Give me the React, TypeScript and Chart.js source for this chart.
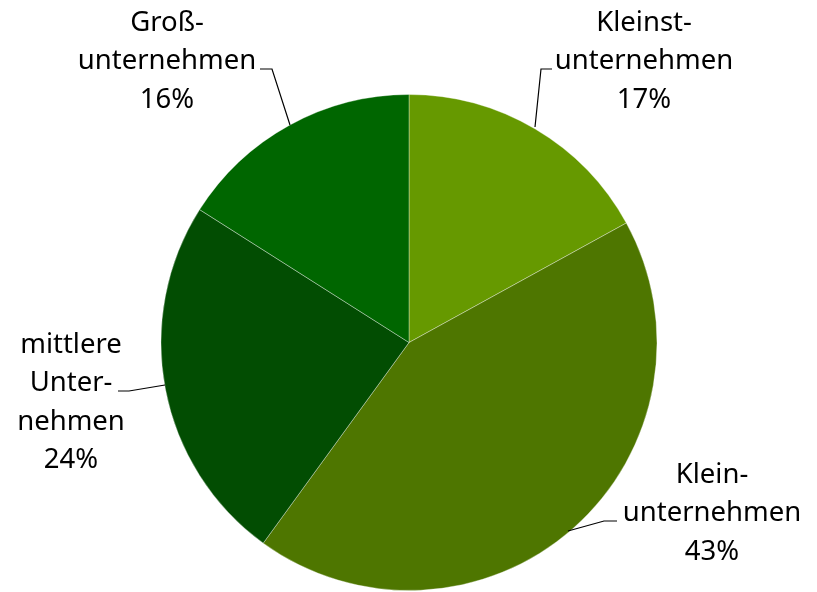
import React, { useEffect, useRef } from "react";
import { Chart, registerables } from "chart.js";

Chart.register(...registerables);

const categories = ["Kleinst-\nunternehmen", "Klein-\nunternehmen", "mittlere\nUnter-\nnehmen", "Groß-\nunternehmen"];
const shares = [17, 43, 24, 16];
const colors = ["#669900", "#4E7600", "#024D02", "#006600"];

// label placement (text centre x, first line centre y) and leader-line points
const labelLayout = [
  { x: 644, y: 23, leader: [[552, 69], [541, 69], [535, 127]] },
  { x: 712, y: 475, leader: [[617, 521], [604, 521], [568, 531]] },
  { x: 71, y: 345, leader: [[118, 391], [129, 391], [165, 385]] },
  { x: 167, y: 23, leader: [[260, 69], [272, 69], [290, 125]] },
];

const labelPlugin = {
  id: "pieLabels",
  afterDraw(chart: any) {
    const ctx = chart.ctx;
    ctx.save();
    ctx.font = "27.5px 'Noto Sans'";
    ctx.fillStyle = "#000";
    ctx.textAlign = "center";
    ctx.textBaseline = "middle";
    const lh = 38.5;
    categories.forEach((cat, i) => {
      const L = labelLayout[i];
      const lines = cat.split("\n").concat([shares[i] + "%"]);
      lines.forEach((ln, j) => ctx.fillText(ln, L.x, L.y + j * lh));
      ctx.beginPath();
      ctx.strokeStyle = "#000";
      ctx.lineWidth = 1.2;
      L.leader.forEach((p, k) => (k === 0 ? ctx.moveTo(p[0], p[1]) : ctx.lineTo(p[0], p[1])));
      ctx.stroke();
    });
    ctx.restore();
  },
};

export default function App() {
  const ref = useRef<HTMLCanvasElement>(null);
  useEffect(() => {
    document.body.style.margin = "0";
    const chart = new Chart(ref.current!, {
      type: "pie",
      data: {
        labels: categories,
        datasets: [
          {
            data: shares,
            backgroundColor: colors,
            borderColor: "rgba(255,255,255,0.35)",
            borderWidth: 1,
          },
        ],
      },
      options: {
        responsive: false,
        animation: false,
        layout: { padding: { top: 94, bottom: 1, left: 1, right: 0 } },
        plugins: { legend: { display: false }, tooltip: { enabled: false } },
      },
      plugins: [labelPlugin],
    });
    return () => chart.destroy();
  }, []);
  return (
    <div style={{ width: 817, height: 592, background: "#fff" }}>
      <canvas ref={ref} width={817} height={592} />
    </div>
  );
}
